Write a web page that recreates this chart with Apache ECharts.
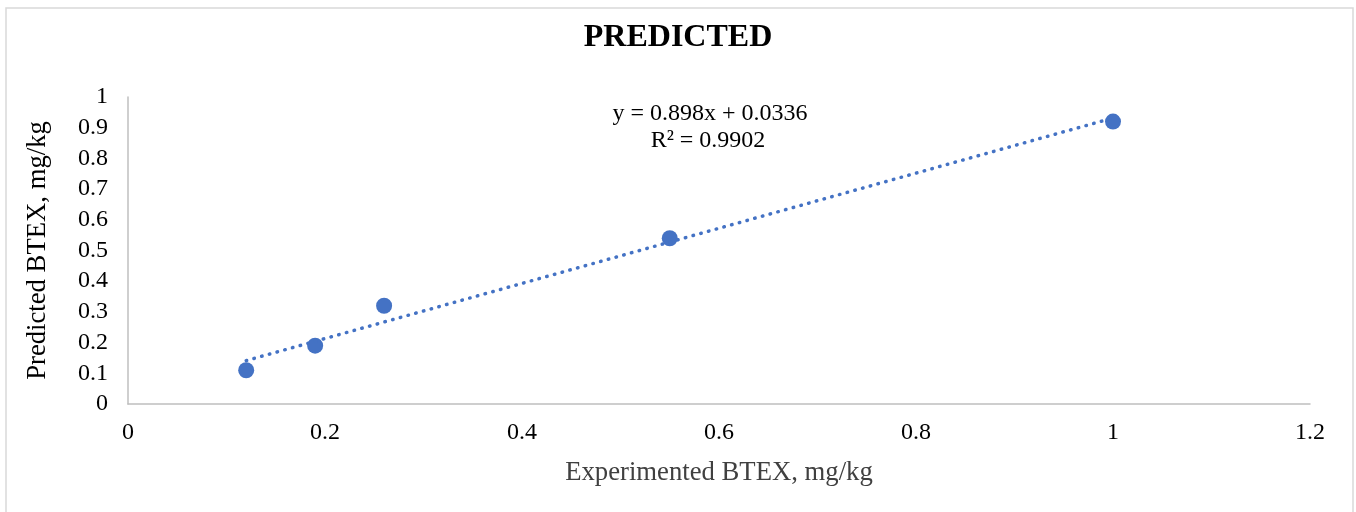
<!DOCTYPE html>
<html>
<head>
<meta charset="utf-8">
<script src="https://cdn.jsdelivr.net/npm/echarts@6/dist/echarts.min.js"></script>
<style>html,body{margin:0;padding:0;background:#fff;}#c{width:1356px;height:512px;}</style>
</head>
<body>
<div id="c"></div>
<script>
const experimented = [0.12, 0.19, 0.26, 0.55, 1.0];
const predicted = [0.11, 0.19, 0.32, 0.54, 0.92];
const trendSlope = 0.898;
const trendIntercept = 0.0336;
const rSquared = 0.9902;
const xTicks = [0, 0.2, 0.4, 0.6, 0.8, 1, 1.2];
const yTicks = [0, 0.1, 0.2, 0.3, 0.4, 0.5, 0.6, 0.7, 0.8, 0.9, 1];

const points = experimented.map((x, i) => [x, predicted[i]]);
const xMin = Math.min(...experimented), xMax = Math.max(...experimented);
const trend = [[xMin, trendSlope * xMin + trendIntercept], [xMax, trendSlope * xMax + trendIntercept]];
const font = '"Liberation Serif", "Times New Roman", serif';

const chart = echarts.init(document.getElementById('c'));
chart.setOption({
  animation: false,
  backgroundColor: '#fff',
  textStyle: { fontFamily: font },
  title: {
    text: 'PREDICTED', left: 'center', top: 17,
    textStyle: { fontFamily: font, fontSize: 32, fontWeight: 'bold', color: '#000' }
  },
  grid: { left: 128, right: 46, top: 97, bottom: 108 },
  xAxis: {
    type: 'value', min: 0, max: 1.2, interval: 0.2,
    name: 'Experimented BTEX, mg/kg', nameLocation: 'middle', nameGap: 55,
    nameTextStyle: { fontFamily: font, fontSize: 26.7, color: '#404040' },
    axisLine: { show: true, lineStyle: { color: '#bfbfbf', width: 1.5 } },
    axisTick: { show: false },
    splitLine: { show: false },
    axisLabel: { fontFamily: font, fontSize: 24, color: '#000', margin: 17,
      formatter: v => String(xTicks.find(t => Math.abs(t - v) < 1e-9) ?? v) }
  },
  yAxis: {
    type: 'value', min: 0, max: 1, interval: 0.1,
    name: 'Predicted BTEX, mg/kg', nameLocation: 'middle', nameGap: 77, nameRotate: 90,
    nameTextStyle: { fontFamily: font, fontSize: 26.7, color: '#000' },
    axisLine: { show: true, lineStyle: { color: '#bfbfbf', width: 1.5 } },
    axisTick: { show: false },
    splitLine: { show: false },
    axisLabel: { fontFamily: font, fontSize: 24, color: '#000', margin: 20,
      formatter: v => String(yTicks.find(t => Math.abs(t - v) < 1e-9) ?? v) }
  },
  graphic: [
    { type: 'rect', shape: { x: 6, y: 8, width: 1347, height: 520 }, style: { fill: 'none', stroke: '#d9d9d9', lineWidth: 1.5 }, silent: true },
    { type: 'text', x: 710, y: 114, style: { text: 'y = ' + trendSlope + 'x + ' + trendIntercept, font: '24px ' + font, fill: '#000', textAlign: 'center', textVerticalAlign: 'middle' } },
    { type: 'text', x: 708, y: 141, style: { text: 'R² = ' + rSquared, font: '24px ' + font, fill: '#000', textAlign: 'center', textVerticalAlign: 'middle' } }
  ],
  series: [
    {
      type: 'line', data: trend, symbol: 'none', silent: true,
      lineStyle: { color: '#4472C4', width: 3.5, type: [0.5, 7.5], cap: 'round' }
    },
    {
      type: 'scatter', data: points, symbol: 'circle', symbolSize: 16,
      itemStyle: { color: '#4472C4', opacity: 1 }
    }
  ]
});
</script>
</body>
</html>
